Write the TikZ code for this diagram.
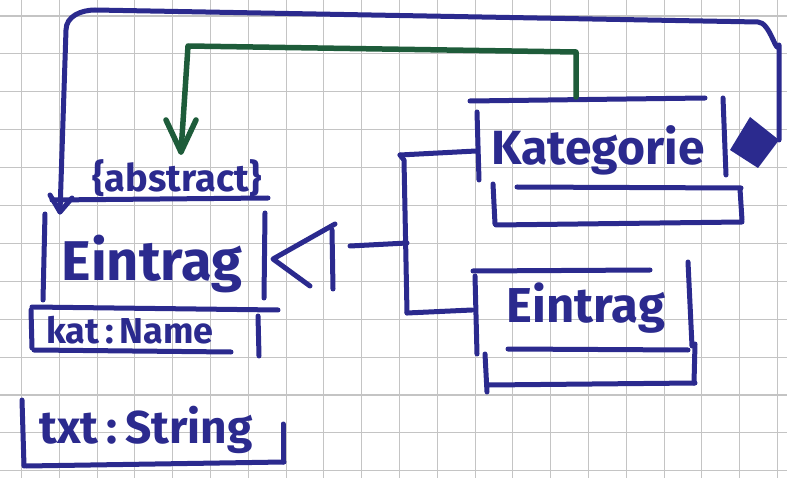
\documentclass[tikz,border=0pt]{standalone}
\usepackage{fontspec}
\setmainfont{Fira Sans}
\usetikzlibrary{arrows.meta}
\definecolor{ink}{HTML}{2B2A8E}
\definecolor{gink}{HTML}{1E5C3A}
\definecolor{gridc}{HTML}{C4C4C4}
\tikzset{
  pen/.style={draw=ink, line width=5pt, line cap=round, line join=round},
  gpen/.style={draw=gink, line width=5.5pt, line cap=round, line join=round},
  lbl/.style={text=ink, font=\bfseries, inner sep=0pt},
}
\begin{document}
\begin{tikzpicture}[x=1pt,y=-1pt]
\useasboundingbox (0,0) rectangle (787,478);
\fill[white] (0,0) rectangle (787,478);
% grid paper
\foreach \i in {0,...,20} \draw[gridc, line width=1.1pt] ({21.5+37.8*\i},0) -- ({21.5+37.8*\i},478);
\foreach \j in {0,...,12} \draw[gridc, line width=1.1pt] (0,{16+37.9*\j}) -- (787,{16+37.9*\j});

% ---- left abstract class Eintrag
\node[lbl, font=\bfseries\fontsize{38}{38}\selectfont] (abs) at (177,178) {\{abstract\}};
\node[lbl, font=\bfseries\fontsize{56}{56}\selectfont] (e1) at (152,264) {Eintrag};
\node[lbl, font=\bfseries\fontsize{36}{36}\selectfont] (kat) at (130,330) {kat\,:\,Name};
\node[lbl, font=\bfseries\fontsize{46}{46}\selectfont] (txt) at (146,430) {txt\,:\,String};
\draw[pen] (52,200) -- (268,198);
\draw[pen] (45,214) -- (43,300);
\draw[pen] (265,213) -- (264,298);
\draw[pen] (32,307) -- (278,310);
\draw[pen] (31,310) -- (32,348);
\draw[pen] (34,350) -- (231,352);
\draw[pen] (258,316) -- (259,356);
\draw[pen] (22,400) -- (24,466);
\draw[pen] (26,466) -- (284,462);
\draw[pen] (283,424) -- (283,462);

% ---- inheritance triangle
\coordinate (tip) at (273,259);
\draw[pen] (335,224) -- (tip) -- (310,286);
\draw[pen] (332,230) -- (333,289);
\coordinate (bus) at (407,243);
\draw[pen] (350,246) -- (bus);
\draw[pen] (400,155) -- (404,160) -- (407,313);
\draw[pen] (400,155) -- (476,151);
\draw[pen] (407,313) -- (472,310);

% ---- Kategorie
\node[lbl, font=\bfseries\fontsize{48}{48}\selectfont] (kg) at (598,150) {Kategorie};
\draw[pen] (470,101) -- (705,98);
\draw[pen] (477,112) -- (479,180);
\draw[pen] (723,98) -- (726,175);
\draw[pen] (517,187) -- (741,188);
\draw[pen] (493,184) -- (495,224);
\draw[pen] (496,225) -- (742,222);
\draw[pen] (740,189) -- (742,220);

% ---- lower Eintrag
\node[lbl, font=\bfseries\fontsize{49}{49}\selectfont] (e2) at (586,308) {Eintrag};
\draw[pen] (473,271) -- (650,270);
\draw[pen] (475,276) -- (477,354);
\draw[pen] (688,262) -- (692,346);
\draw[pen] (508,349) -- (688,350);
\draw[pen] (485,354) -- (487,392);
\draw[pen] (489,385) -- (695,383);
\draw[pen] (695,344) -- (694,383);

% ---- composition (filled diamond at Kategorie)
\coordinate (dl) at (730,150);
\coordinate (dr) at (779,140);
\fill[ink] (dl) -- (750,117) -- (dr) -- (758,168) -- cycle;
\coordinate (atip) at (60,212);
\draw[pen] (dr) -- (779,45) to[out=-100,in=0] (758,22) -- (95,10) to[out=180,in=90] (66,30) -- (atip);
\draw[pen] (50,195) -- (atip) -- (72,198);

% ---- dependency (green)
\coordinate (gs) at (576,97);
\coordinate (gt) at (181,152);
\draw[gpen] (gs) -- (576,52) -- (188,46) -- (gt);
\draw[gpen] (166,120) -- (gt) -- (196,120);
\end{tikzpicture}
\end{document}
